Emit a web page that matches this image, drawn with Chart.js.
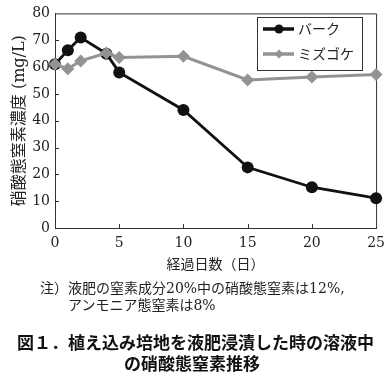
<!DOCTYPE html>
<html><head><meta charset="utf-8">
<script src="https://cdn.jsdelivr.net/npm/chart.js@4/dist/chart.umd.min.js"></script>
<style>
html,body{margin:0;padding:0;background:#fff;}
#wrap{position:relative;width:392px;height:382px;overflow:hidden;background:#fff;}
canvas{position:absolute;left:0;top:0;}
.t{position:absolute;white-space:pre;color:#222;line-height:1;}
.note{font-family:'DejaVu Serif','Noto Sans CJK JP',serif;font-size:14px;}
.cap{font-family:'Noto Sans CJK JP',sans-serif;font-size:17px;font-weight:700;color:#111;}
</style></head><body>
<div id="wrap">
<canvas id="c" width="392" height="382"></canvas>
<div class="t note" style="left:40px;top:281px;">注）液肥の窒素成分20%中の硝酸態窒素は12%,</div>
<div class="t note" style="left:68px;top:298px;">アンモニア態窒素は8%</div>
<div class="t cap" style="left:17px;top:333px;">図１．植え込み培地を液肥浸漬した時の溶液中</div>
<div class="t cap" style="left:124px;top:354px;">の硝酸態窒素推移</div>
</div>
<script>
const days = [0, 1, 2, 4, 5, 10, 15, 20, 25];
const bark = [61, 66.3, 71, 65, 58, 44, 22.6, 15.2, 11.1];
const mizugoke = [61, 59.4, 62.3, 65.2, 63.6, 64, 55.2, 56.3, 57.2];
const seriesNames = ['バーク', 'ミズゴケ'];
const xTicks = [0, 5, 10, 15, 20, 25];
const yTicks = [0, 10, 20, 30, 40, 50, 60, 70, 80];

const tickFont = {family: "'DejaVu Serif', serif", size: 14};

const framePlugin = {
  id: 'frame',
  beforeDatasetsDraw(chart) {
    const {ctx, chartArea: a, scales: {x, y}} = chart;
    ctx.save();
    ctx.strokeStyle = '#333';
    ctx.lineWidth = 1;
    ctx.beginPath();
    ctx.moveTo(a.left, a.top + 0.5); ctx.lineTo(a.right + 0.5, a.top + 0.5);
    ctx.lineTo(a.right + 0.5, a.bottom);
    xTicks.slice(1, -1).forEach(v => {
      const px = Math.round(x.getPixelForValue(v)) + 0.5;
      ctx.moveTo(px, a.bottom); ctx.lineTo(px, a.bottom - 4);
    });
    yTicks.slice(1, -1).forEach(v => {
      const py = Math.round(y.getPixelForValue(v)) + 0.5;
      ctx.moveTo(a.left, py); ctx.lineTo(a.left + 4, py);
    });
    ctx.stroke();
    ctx.restore();
  }
};

const legendPlugin = {
  id: 'boxLegend',
  afterDraw(chart) {
    const {ctx} = chart;
    const bx = 257.5, by = 17.5, bw = 105, bh = 53;
    ctx.save();
    ctx.fillStyle = '#fff';
    ctx.fillRect(bx, by, bw, bh);
    ctx.strokeStyle = '#333';
    ctx.lineWidth = 1;
    ctx.strokeRect(bx, by, bw, bh);
    const rows = [29, 54];
    chart.data.datasets.forEach((ds, i) => {
      const yy = rows[i];
      ctx.strokeStyle = ds.borderColor;
      ctx.lineWidth = 3.5;
      ctx.beginPath(); ctx.moveTo(263, yy); ctx.lineTo(294, yy); ctx.stroke();
      ctx.fillStyle = ds.backgroundColor;
      ctx.beginPath();
      if (ds.pointStyle === 'circle') {
        ctx.arc(279, yy, 4.5, 0, Math.PI * 2);
      } else {
        ctx.moveTo(279, yy - 4.5); ctx.lineTo(283.5, yy); ctx.lineTo(279, yy + 4.5); ctx.lineTo(274.5, yy); ctx.closePath();
      }
      ctx.fill();
      ctx.fillStyle = '#222';
      ctx.font = "14px 'Noto Sans CJK JP'";
      ctx.textBaseline = 'middle';
      ctx.textAlign = 'left';
      ctx.fillText(ds.label, 298, yy);
    });
    ctx.restore();
  }
};

new Chart(document.getElementById('c'), {
  type: 'line',
  data: {
    datasets: [
      {
        label: seriesNames[0],
        data: days.map((d, i) => ({x: d, y: bark[i]})),
        borderColor: '#111', backgroundColor: '#111',
        borderWidth: 2.8, pointStyle: 'circle', pointRadius: 6, pointBorderWidth: 0,
        order: 1, clip: false, tension: 0
      },
      {
        label: seriesNames[1],
        data: days.map((d, i) => ({x: d, y: mizugoke[i]})),
        borderColor: '#939393', backgroundColor: '#939393',
        borderWidth: 3, pointStyle: 'rectRot', pointRadius: 6.5, pointBorderWidth: 0,
        order: 0, clip: false, tension: 0
      }
    ]
  },
  options: {
    responsive: false, animation: false, devicePixelRatio: 1,
    layout: {padding: {top: 12, right: 15, bottom: 109, left: 0}},
    plugins: {legend: {display: false}, tooltip: {enabled: false}},
    scales: {
      x: {
        type: 'linear', min: 0, max: 25,
        afterBuildTicks(s) { s.ticks = xTicks.map(v => ({value: v})); },
        ticks: {padding: 7, color: '#222', font: tickFont, maxRotation: 0},
        grid: {display: false, drawTicks: false},
        border: {color: '#333', width: 1},
        title: {display: true, text: '経過日数（日）', color: '#222',
          font: {family: "'Noto Sans CJK JP'", size: 14}, padding: {top: 0, bottom: 1}},
        afterFit(s) { s.height = 45; }
      },
      y: {
        type: 'linear', min: 0, max: 80,
        afterBuildTicks(s) { s.ticks = yTicks.map(v => ({value: v})); },
        ticks: {padding: 5, color: '#222', font: tickFont},
        grid: {display: false, drawTicks: false},
        border: {color: '#333', width: 1},
        title: {display: true, text: '硝酸態窒素濃度 (mg/L)', color: '#222',
          font: {family: "'DejaVu Serif', 'Noto Sans CJK JP'", size: 16}, padding: {top: 10, bottom: 0}},
        afterFit(s) { s.width = 55; }
      }
    }
  },
  plugins: [framePlugin, legendPlugin]
});
</script>
</body></html>
